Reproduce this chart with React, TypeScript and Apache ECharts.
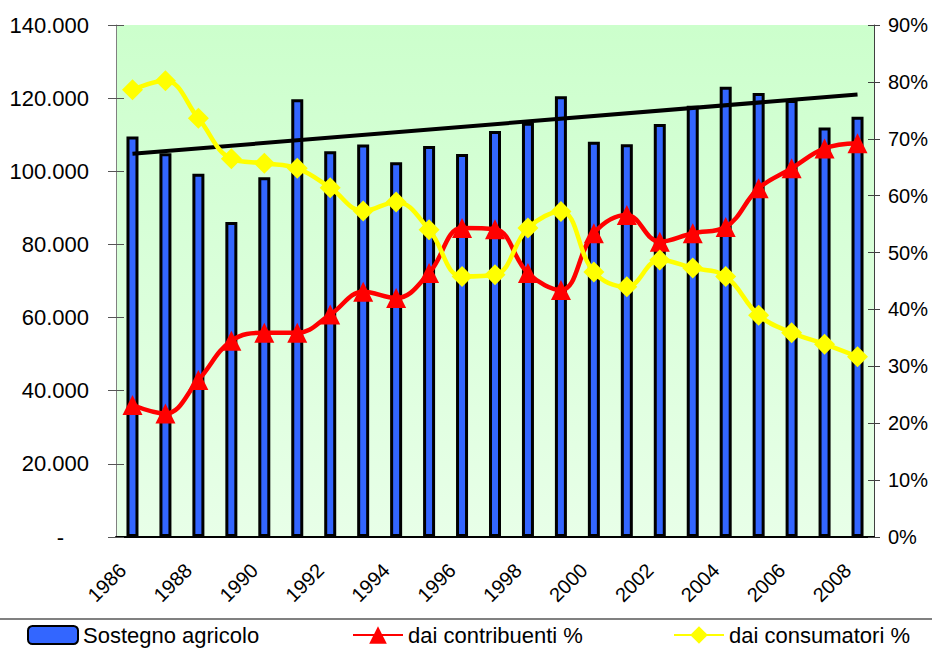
import React, { useEffect, useRef } from "react";
import * as echarts from "echarts";

const years = ["1986","1987","1988","1989","1990","1991","1992","1993","1994","1995","1996","1997","1998","1999","2000","2001","2002","2003","2004","2005","2006","2007","2008"];
const sostegno = [109500,104900,99300,86100,98400,119700,105500,107300,102500,106900,104700,111000,113300,120500,108100,107400,112900,117900,123100,121400,119500,112000,114900];
const contribuenti = [23.2,21.7,27.6,34.5,35.9,35.9,39.1,43.1,42.0,46.4,54.3,54.1,46.4,43.4,53.4,56.6,51.9,53.4,54.5,61.3,64.8,68.3,69.2];
const consumatori = [78.6,80.2,73.6,66.5,65.7,64.8,61.4,57.3,58.9,54.0,45.8,46.1,54.3,57.2,46.6,44.0,48.7,47.3,45.8,39.0,35.9,33.9,31.7];
const trend = [104800,null,null,null,null,null,null,null,null,null,null,null,null,null,null,null,null,null,null,null,null,null,121000];

const FONT = "'Liberation Sans', Arial, sans-serif";

export default function App() {
  const ref = useRef<HTMLDivElement>(null);
  useEffect(() => {
    const chart = echarts.init(ref.current!, null, { renderer: "svg" });
    chart.setOption({
      animation: false,
      textStyle: { fontFamily: FONT, color: "#000" },
      grid: {
        left: 116, right: 58, top: 25, bottom: 111,
        show: true, borderWidth: 0,
        backgroundColor: {
          type: "linear", x: 0, y: 0, x2: 0, y2: 1,
          colorStops: [
            { offset: 0, color: "#CCFFCC" },
            { offset: 1, color: "#E8FFE8" },
          ],
        },
      },
      xAxis: {
        type: "category",
        data: years,
        boundaryGap: true,
        axisLine: { lineStyle: { color: "#000", width: 2 } },
        axisTick: { interval: 0, length: 7, lineStyle: { color: "#333" } },
        axisLabel: {
          interval: 1, rotate: 45, margin: 20, padding: [0, 14, 0, 0],
          fontSize: 20, fontFamily: FONT, color: "#000",
        },
        splitLine: { show: false },
      },
      yAxis: [
        {
          type: "value", min: 0, max: 140000, interval: 20000, position: "left",
          axisLine: { show: true, lineStyle: { color: "#808080" } },
          axisTick: { show: true, length: 8, lineStyle: { color: "#555" } },
          splitLine: { show: false },
          axisLabel: {
            fontSize: 22, fontFamily: FONT, color: "#000", margin: 27,
            formatter: (v: number) => (v === 0 ? "{d|-}" : (v / 1000).toFixed(3)),
            rich: { d: { fontSize: 22, fontFamily: FONT, padding: [0, 25, 0, 0] } },
          },
        },
        {
          type: "value", min: 0, max: 90, interval: 10, position: "right",
          axisLine: { show: true, lineStyle: { color: "#404040" } },
          axisTick: { show: true, length: 6, lineStyle: { color: "#404040" } },
          splitLine: { show: false },
          axisLabel: { fontSize: 20, fontFamily: FONT, color: "#000", margin: 14, formatter: "{value}%" },
        },
        {
          type: "value", min: 0, max: 140000, interval: 20000, position: "left",
          axisLine: { show: false }, axisLabel: { show: false }, splitLine: { show: false },
          axisTick: { show: true, inside: true, length: 8, lineStyle: { color: "#555" } },
        },
        {
          type: "value", min: 0, max: 90, interval: 10, position: "right",
          axisLine: { show: false }, axisLabel: { show: false }, splitLine: { show: false },
          axisTick: { show: true, inside: true, length: 6, lineStyle: { color: "#404040" } },
        },
      ],
      legend: [
        {
          left: 27, top: 624, padding: 0, itemWidth: 50, itemHeight: 18, itemGap: 0,
          textStyle: { fontSize: 22, fontFamily: FONT, color: "#000" },
          data: ["Sostegno agricolo"],
        },
        {
          left: 352, top: 624, padding: 0, itemWidth: 50, itemHeight: 22, itemGap: 0,
          textStyle: { fontSize: 22, fontFamily: FONT, color: "#000" },
          data: ["dai contribuenti %"],
        },
        {
          left: 673, top: 624, padding: 0, itemWidth: 50, itemHeight: 22, itemGap: 0,
          textStyle: { fontSize: 22, fontFamily: FONT, color: "#000" },
          data: ["dai consumatori %"],
        },
      ],
      graphic: [
        { type: "line", shape: { x1: 0, y1: 619, x2: 932, y2: 619 }, style: { stroke: "#808080", lineWidth: 2 }, silent: true },
      ],
      series: [
        {
          name: "Sostegno agricolo", type: "bar", data: sostegno, yAxisIndex: 0,
          barWidth: 12,
          itemStyle: { color: "#3366FF", borderColor: "#000", borderWidth: 3 },
        },
        {
          name: "trend", type: "line", data: trend, yAxisIndex: 0, connectNulls: true,
          symbol: "none", lineStyle: { color: "#000", width: 4 }, z: 3,
        },
        {
          name: "dai contribuenti %", type: "line", data: contribuenti, yAxisIndex: 1,
          smooth: 0.4, symbol: "triangle", symbolSize: 20,
          lineStyle: { color: "#FF0000", width: 4.5 },
          itemStyle: { color: "#FF0000" }, z: 4,
        },
        {
          name: "dai consumatori %", type: "line", data: consumatori, yAxisIndex: 1,
          smooth: 0.4, symbol: "diamond", symbolSize: [21, 21],
          lineStyle: { color: "#FFFF00", width: 4.5 },
          itemStyle: { color: "#FFFF00" }, z: 5,
        },
      ],
    });
    return () => chart.dispose();
  }, []);
  return <div ref={ref} style={{ width: 932, height: 648, position: "absolute", left: 0, top: 0 }} />;
}
